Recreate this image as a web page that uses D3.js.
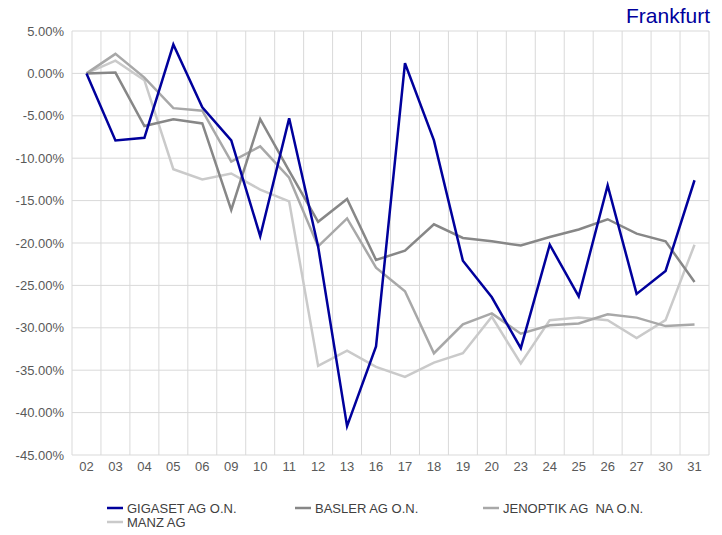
<!DOCTYPE html>
<html>
<head>
    <title>Frankfurt</title>
    <meta charset="utf-8">
    <script src="https://cdn.jsdelivr.net/npm/d3@7"></script>
    <style>
        body { margin: 0; background: #fff; }
        svg { font-family: "Liberation Sans", Arial, sans-serif; }
        .grid line { stroke: #d9d9d9; stroke-width: 1px; }
        .axis text { fill: #595959; font-size: 13px; }
        .legend text { fill: #404040; font-size: 13px; white-space: pre; }
    </style>
</head>
<body>
<svg id="chart" width="722" height="535"></svg>
<script>
    // days (x categories)
    var days = ["02","03","04","05","06","09","10","11","12","13","16","17","18","19","20","23","24","25","26","27","30","31"];

    // percent changes
    var gigaset  = [0, -7.9, -7.6, 3.4, -4.0, -7.9, -19.2, -5.3, -20.4, -41.6, -32.2, 1.2, -7.9, -22.1, -26.4, -32.4, -20.2, -26.3, -13.2, -26.0, -23.3, -12.6];
    var basler   = [0, 0.1, -6.2, -5.4, -5.9, -16.1, -5.4, -11.5, -17.5, -14.8, -22.0, -20.9, -17.8, -19.4, -19.8, -20.3, -19.3, -18.4, -17.2, -18.9, -19.8, -24.6];
    var jenoptik = [0, 2.3, -0.5, -4.1, -4.4, -10.4, -8.6, -12.3, -20.4, -17.1, -22.9, -25.7, -33.0, -29.6, -28.3, -30.7, -29.7, -29.5, -28.4, -28.8, -29.8, -29.6];
    var manz     = [0, 1.5, -0.8, -11.3, -12.5, -11.8, -13.7, -15.1, -34.5, -32.7, -34.6, -35.8, -34.1, -33.0, -28.7, -34.2, -29.1, -28.8, -29.1, -31.2, -29.1, -20.2];

    var names  = ["GIGASET AG O.N.", "BASLER AG O.N.", "JENOPTIK AG  NA O.N.", "MANZ AG"];
    var colors = ["#00009c", "#878787", "#a8a8a8", "#cacaca"];
    var yTicks = [5, 0, -5, -10, -15, -20, -25, -30, -35, -40, -45];

    var series = [gigaset, basler, jenoptik, manz];

    var svg = d3.select("#chart");
    var pLeft = 72, pRight = 709, pTop = 31, pBottom = 455;

    var x = d3.scaleBand().domain(days).range([pLeft, pRight]);
    var y = d3.scaleLinear().domain([-45, 5]).range([pBottom, pTop]);

    // title
    svg.append("text")
        .attr("x", 710).attr("y", 23)
        .attr("text-anchor", "end")
        .attr("fill", "#00009c")
        .style("font-size", "21px")
        .text("Frankfurt");

    // grid
    var grid = svg.append("g").attr("class", "grid");
    grid.selectAll("line.h")
        .data(yTicks)
        .enter().append("line")
        .attr("class", "h")
        .attr("x1", pLeft).attr("x2", pRight)
        .attr("y1", function (d) { return y(d); })
        .attr("y2", function (d) { return y(d); });
    grid.selectAll("line.v")
        .data(days.concat(["end"]))
        .enter().append("line")
        .attr("class", "v")
        .attr("x1", function (d, i) { return pLeft + i * x.bandwidth(); })
        .attr("x2", function (d, i) { return pLeft + i * x.bandwidth(); })
        .attr("y1", pTop).attr("y2", pBottom);

    // y axis labels
    var yAxis = svg.append("g").attr("class", "axis")
        .attr("transform", "translate(" + (pLeft - 8) + ",0)")
        .call(d3.axisLeft(y).tickValues(yTicks).tickSize(0).tickPadding(0)
            .tickFormat(function (d) { return d.toFixed(2) + "%"; }));
    yAxis.select(".domain").remove();

    // x axis labels
    var xAxis = svg.append("g").attr("class", "axis")
        .attr("transform", "translate(0," + pBottom + ")")
        .call(d3.axisBottom(x).tickSize(0).tickPadding(7));
    xAxis.select(".domain").remove();

    // lines (first series drawn last, on top)
    var line = d3.line()
        .x(function (d, i) { return x(days[i]) + x.bandwidth() / 2; })
        .y(function (d) { return y(d); });

    for (var s = series.length - 1; s >= 0; s--) {
        svg.append("path")
            .datum(series[s])
            .attr("fill", "none")
            .attr("stroke", colors[s])
            .attr("stroke-width", 2.5)
            .attr("d", line);
    }

    // legend
    var legPos = [[107, 508], [295, 508], [483, 508], [107, 522]];
    var legend = svg.append("g").attr("class", "legend");
    names.forEach(function (n, i) {
        legend.append("line")
            .attr("x1", legPos[i][0]).attr("x2", legPos[i][0] + 16)
            .attr("y1", legPos[i][1]).attr("y2", legPos[i][1])
            .attr("stroke", colors[i]).attr("stroke-width", 2.5);
        legend.append("text")
            .attr("x", legPos[i][0] + 20).attr("y", legPos[i][1])
            .attr("dy", "0.35em")
            .text(n);
    });
</script>
</body>
</html>
